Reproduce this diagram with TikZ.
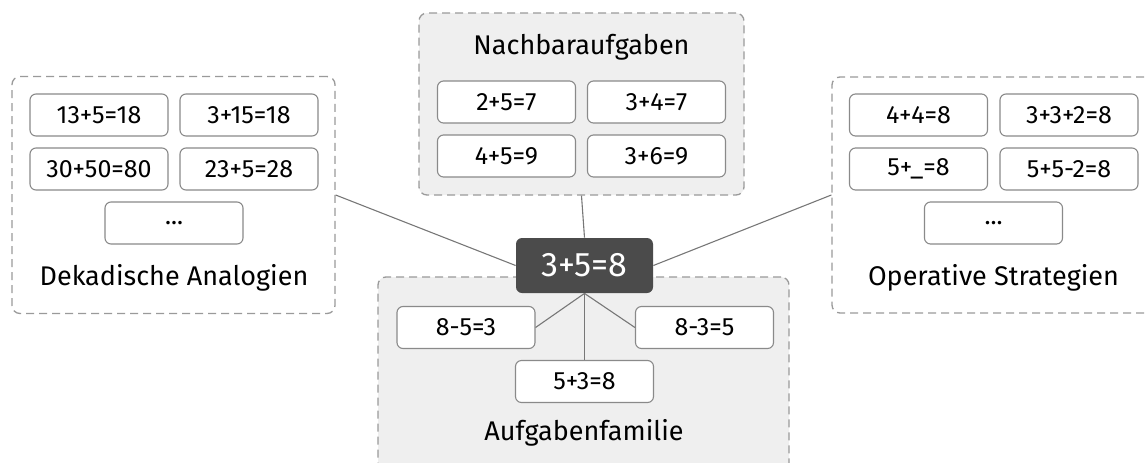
\documentclass[tikz,border=0pt]{standalone}
\usepackage{fontspec}
\setmainfont{Fira Sans}
\usetikzlibrary{positioning}
\definecolor{groupfill}{HTML}{EFEFEF}
\definecolor{dashgray}{HTML}{9A9A9A}
\definecolor{boxgray}{HTML}{8A8A8A}
\definecolor{linkgray}{HTML}{777777}
\definecolor{centerfill}{HTML}{4B4B4B}

\begin{document}
\begin{tikzpicture}[x=0.5pt, y=-0.5pt,
    group/.style={draw=dashgray, line width=0.65pt, dash pattern=on 4pt off 2.5pt,
        rounded corners=4pt, inner sep=0pt},
    term/.style={draw=boxgray, fill=white, line width=0.55pt, rounded corners=3pt,
        minimum width=69pt, minimum height=21pt, inner sep=0pt,
        font=\fontsize{12.5}{14}\selectfont},
    title/.style={inner sep=0pt, text=black, font=\fontsize{13.5}{16}\selectfont},
    link/.style={draw=linkgray, line width=0.55pt},
]
    \useasboundingbox (0,0) rectangle (1148,462);

    % groups
    \node[group, fill=white, minimum width=161.5pt, minimum height=118.5pt] (dekadisch) at (173.5,195) {};
    \node[group, fill=groupfill, minimum width=162.5pt, minimum height=91pt] (nachbar) at (581.5,104) {};
    \node[group, fill=groupfill, minimum width=205.5pt, minimum height=106.5pt] (familie) at (583.5,383.5) {};
    \node[group, fill=white, minimum width=166.5pt, minimum height=118pt] (operativ) at (998.5,195) {};

    % Dekadische Analogien
    \node[term] (d1) at (99,115) {13+5=18};
    \node[term] (d2) at (249,115) {3+15=18};
    \node[term] (d3) at (99,169) {30+50=80};
    \node[term] (d4) at (249,169) {23+5=28};
    \node[term] (d5) at (174,223) {...};
    \node[title] (dlabel) at (174,278) {Dekadische Analogien};

    % Nachbaraufgaben
    \node[title] (nlabel) at (581.5,47) {Nachbaraufgaben};
    \node[term] (n1) at (506.5,102) {2+5=7};
    \node[term] (n2) at (656.5,102) {3+4=7};
    \node[term] (n3) at (506.5,156) {4+5=9};
    \node[term] (n4) at (656.5,156) {3+6=9};

    % Aufgabenfamilie
    \node[term] (f1) at (466,327.5) {8-5=3};
    \node[term] (f2) at (704.5,327.5) {8-3=5};
    \node[term] (f3) at (584.5,381.5) {5+3=8};
    \node[title] (flabel) at (584,433) {Aufgabenfamilie};

    % Operative Strategien
    \node[term] (o1) at (918.5,115) {4+4=8};
    \node[term] (o2) at (1069,115) {3+3+2=8};
    \node[term] (o3) at (918.5,169) {5+\_=8};
    \node[term] (o4) at (1069,169) {5+5-2=8};
    \node[term] (o5) at (993.5,223) {...};
    \node[title] (olabel) at (993.5,278) {Operative Strategien};

    % center
    \node[fill=centerfill, rounded corners=3pt, minimum width=68.5pt, minimum height=27.5pt,
        inner sep=0pt, text=white, font=\fontsize{17}{20}\selectfont] (center) at (584.5,265.5) {3+5=8};

    % links
    \draw[link] (dekadisch.east) -- (center.west);
    \draw[link] (operativ.west) -- (center.east);
    \draw[link] (nachbar.south) -- (center.north);
    \draw[link] (center.south) -- (f1.east);
    \draw[link] (center.south) -- (f3.north);
    \draw[link] (center.south) -- (f2.west);
\end{tikzpicture}
\end{document}
